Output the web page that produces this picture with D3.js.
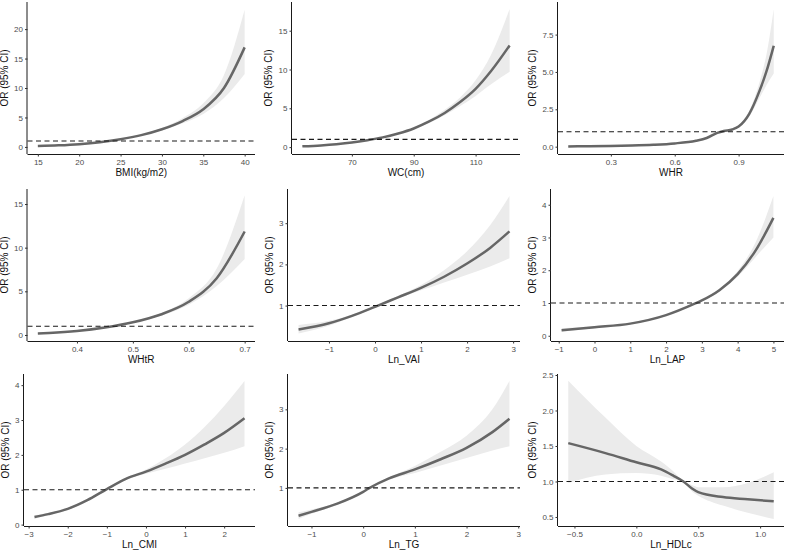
<!DOCTYPE html>
<html>
<head>
<meta charset="utf-8">
<script src="https://cdn.jsdelivr.net/npm/d3@7/dist/d3.min.js"></script>
<style>
  body { margin: 0; background: #fff; }
  text { font-family: "Liberation Sans", Arial, sans-serif; }
</style>
</head>
<body>
<svg id="chart" width="787" height="553"></svg>
<script>
// ---- data (OR with 95% CI) ----
var bmiX  = [15, 17.5, 20, 22.5, 25, 27.5, 30, 32.5, 35, 37.5, 40];
var bmiOR = [0.15, 0.27, 0.47, 0.8, 1.3, 2.0, 3.0, 4.4, 6.4, 10.0, 16.9];
var bmiLo = [0.1, 0.21, 0.4, 0.78, 1.25, 1.9, 2.8, 4.0, 5.6, 8.3, 12.4];
var bmiHi = [0.22, 0.34, 0.55, 0.83, 1.38, 2.1, 3.2, 4.9, 7.4, 12.2, 23.3];

var wcX  = [54, 60, 65, 70, 75, 80, 85, 90, 95, 100, 105, 110, 115, 121];
var wcOR = [0.1, 0.22, 0.37, 0.58, 0.88, 1.25, 1.75, 2.4, 3.3, 4.4, 5.8, 7.5, 9.8, 13.1];
var wcLo = [0.06, 0.17, 0.32, 0.55, 0.86, 1.22, 1.7, 2.3, 3.1, 4.1, 5.3, 6.6, 8.1, 9.7];
var wcHi = [0.16, 0.28, 0.43, 0.62, 0.9, 1.28, 1.8, 2.5, 3.5, 4.8, 6.4, 8.6, 11.9, 17.8];

var whrX  = [0.1, 0.2, 0.3, 0.4, 0.5, 0.6, 0.7, 0.75, 0.8, 0.83, 0.87, 0.9, 0.95, 1.0, 1.03, 1.065];
var whrOR = [0.02, 0.03, 0.05, 0.08, 0.13, 0.22, 0.4, 0.58, 0.92, 1.05, 1.15, 1.35, 2.2, 3.8, 5.0, 6.75];
var whrLo = [0.0, 0.01, 0.02, 0.05, 0.09, 0.17, 0.35, 0.54, 0.88, 1.02, 1.1, 1.28, 2.0, 3.3, 4.1, 4.9];
var whrHi = [0.12, 0.12, 0.13, 0.15, 0.19, 0.28, 0.46, 0.63, 0.96, 1.08, 1.2, 1.42, 2.4, 4.4, 6.1, 9.2];

var whtrX  = [0.33, 0.35, 0.4, 0.45, 0.5, 0.55, 0.6, 0.65, 0.7];
var whtrOR = [0.16, 0.22, 0.45, 0.85, 1.45, 2.35, 3.8, 6.5, 11.85];
var whtrLo = [0.1, 0.16, 0.39, 0.82, 1.4, 2.2, 3.45, 5.6, 8.7];
var whtrHi = [0.24, 0.3, 0.52, 0.88, 1.5, 2.5, 4.2, 7.6, 16.0];

var vaiX  = [-1.66, -1, -0.5, 0, 0.5, 1, 1.5, 2, 2.5, 2.92];
var vaiOR = [0.42, 0.57, 0.75, 0.97, 1.2, 1.43, 1.7, 2.02, 2.4, 2.8];
var vaiLo = [0.32, 0.51, 0.72, 0.95, 1.17, 1.37, 1.56, 1.75, 1.95, 2.15];
var vaiHi = [0.53, 0.63, 0.78, 0.99, 1.23, 1.5, 1.86, 2.32, 2.95, 3.66];

var lapX  = [-0.92, 0, 1, 2, 2.8, 3, 3.5, 4, 4.5, 5];
var lapOR = [0.17, 0.26, 0.37, 0.63, 0.98, 1.08, 1.4, 1.88, 2.6, 3.6];
var lapLo = [0.12, 0.23, 0.35, 0.62, 0.97, 1.06, 1.36, 1.8, 2.4, 3.0];
var lapHi = [0.23, 0.29, 0.4, 0.65, 1.0, 1.1, 1.45, 1.98, 2.85, 4.27];

var cmiX  = [-2.85, -2.5, -2, -1.5, -1, -0.5, 0, 0.5, 1, 1.5, 2, 2.52];
var cmiOR = [0.22, 0.3, 0.45, 0.7, 1.02, 1.32, 1.52, 1.75, 2.0, 2.3, 2.63, 3.05];
var cmiLo = [0.17, 0.27, 0.42, 0.67, 0.99, 1.29, 1.46, 1.6, 1.75, 1.9, 2.06, 2.25];
var cmiHi = [0.27, 0.33, 0.48, 0.73, 1.05, 1.35, 1.58, 1.9, 2.3, 2.8, 3.4, 4.12];

var tgX  = [-1.25, -1, -0.5, 0, 0.1, 0.5, 1, 1.5, 2, 2.5, 2.83];
var tgOR = [0.29, 0.39, 0.6, 0.9, 0.98, 1.24, 1.47, 1.73, 2.02, 2.42, 2.76];
var tgLo = [0.21, 0.34, 0.57, 0.88, 0.97, 1.21, 1.38, 1.57, 1.76, 1.95, 2.06];
var tgHi = [0.38, 0.45, 0.63, 0.92, 1.0, 1.27, 1.56, 1.92, 2.33, 3.0, 3.72];

var hdlX  = [-0.55, -0.25, 0, 0.2, 0.3, 0.38, 0.45, 0.5, 0.7, 0.9, 1.11];
var hdlOR = [1.54, 1.4, 1.27, 1.17, 1.08, 1.0, 0.9, 0.85, 0.78, 0.75, 0.72];
var hdlLo = [0.98, 1.1, 1.12, 1.08, 1.03, 1.0, 0.86, 0.8, 0.66, 0.56, 0.47];
var hdlHi = [2.42, 1.9, 1.5, 1.28, 1.14, 1.0, 0.95, 0.92, 0.92, 0.98, 1.13];

// axis titles and tick values
var xTitles = ["BMI(kg/m2)", "WC(cm)", "WHR", "WHtR", "Ln_VAI", "Ln_LAP", "Ln_CMI", "Ln_TG", "Ln_HDLc"];
var xTickVals = [[15, 20, 25, 30, 35, 40], [70, 90, 110], [0.3, 0.6, 0.9], [0.4, 0.5, 0.6, 0.7],
  [-1, 0, 1, 2, 3], [-1, 0, 1, 2, 3, 4, 5], [-3, -2, -1, 0, 1, 2], [-1, 0, 1, 2, 3], [-0.5, 0, 0.5, 1]];
var yTickVals = [[0, 5, 10, 15, 20], [0, 5, 10, 15], [0, 2.5, 5, 7.5], [0, 5, 10, 15],
  [1, 2, 3], [0, 1, 2, 3, 4], [0, 1, 2, 3, 4], [1, 2, 3], [0.5, 1, 1.5, 2, 2.5]];
var yLimits = [[-1.2, 24.6], [-0.89, 18.7], [-0.49, 9.68], [-0.69, 16.72],
  [0.14, 3.83], [-0.16, 4.48], [-0.04, 4.32], [0.03, 3.9], [0.373, 2.514]];
var yTickFmt = [d3.format("d"), d3.format("d"), d3.format(".1f"), d3.format("d"),
  d3.format("d"), d3.format("d"), d3.format("d"), d3.format("d"), d3.format(".1f")];
var xTickFmt = [d3.format("d"), d3.format("d"), d3.format(".1f"), d3.format(".1f"),
  d3.format("d"), d3.format("d"), d3.format("d"), d3.format("d"), d3.format(".1f")];

var series = [
  [bmiX, bmiOR, bmiLo, bmiHi], [wcX, wcOR, wcLo, wcHi], [whrX, whrOR, whrLo, whrHi],
  [whtrX, whtrOR, whtrLo, whtrHi], [vaiX, vaiOR, vaiLo, vaiHi], [lapX, lapOR, lapLo, lapHi],
  [cmiX, cmiOR, cmiLo, cmiHi], [tgX, tgOR, tgLo, tgHi], [hdlX, hdlOR, hdlLo, hdlHi]
];

// ---- layout (ggplot-like grid of 3 x 3) ----
var svg = d3.select("#chart");
var rowTop = [2, 189, 374], panelH = 152;
var colRight = [255, 520, 784];
var panelLeft = [27.5, 292, 558, 27.5, 288, 551, 24, 288, 558];

var minus = function (s) { return String(s).replace("-", "\u2212"); };

series.forEach(function (s, i) {
  var row = Math.floor(i / 3), col = i % 3;
  var left = panelLeft[i], right = colRight[col];
  var top = rowTop[row], bottom = top + panelH;

  var xs = s[0];
  var pad = (xs[xs.length - 1] - xs[0]) * 0.05;
  var x = d3.scaleLinear().domain([xs[0] - pad, xs[xs.length - 1] + pad]).range([left, right]);
  var y = d3.scaleLinear().domain(yLimits[i]).range([bottom, top]);

  var pts = xs.map(function (v, k) { return {x: v, or: s[1][k], lo: s[2][k], hi: s[3][k]}; });

  var g = svg.append("g").attr("class", "panel");

  var ribbon = d3.area().curve(d3.curveMonotoneX)
      .x(function (d) { return x(d.x); })
      .y0(function (d) { return y(d.lo); })
      .y1(function (d) { return y(d.hi); });
  g.append("path").datum(pts).attr("d", ribbon).attr("fill", "#ebebeb");

  var line = d3.line().curve(d3.curveMonotoneX)
      .x(function (d) { return x(d.x); })
      .y(function (d) { return y(d.or); });
  g.append("path").datum(pts).attr("d", line)
      .attr("fill", "none").attr("stroke", "#666").attr("stroke-width", 2.5);

  g.append("line")
      .attr("x1", left).attr("x2", right)
      .attr("y1", y(1)).attr("y2", y(1))
      .attr("stroke", "#1a1a1a").attr("stroke-width", 1.1)
      .attr("stroke-dasharray", "5,3.5");

  var xAxis = d3.axisBottom(x).tickValues(xTickVals[i]).tickSize(2.5).tickPadding(2.5)
      .tickFormat(function (d) { return minus(xTickFmt[i](d)); });
  var gx = g.append("g").attr("transform", "translate(0," + bottom + ")").call(xAxis);
  gx.select(".domain").attr("d", "M" + left + ",0.5H" + right).attr("stroke", "#1a1a1a");

  var yAxis = d3.axisLeft(y).tickValues(yTickVals[i]).tickSize(2.5).tickPadding(2)
      .tickFormat(function (d) { return minus(yTickFmt[i](d)); });
  var gy = g.append("g").attr("transform", "translate(" + left + ",0)").call(yAxis);
  gy.select(".domain").attr("d", "M-0.5," + top + "V" + bottom).attr("stroke", "#1a1a1a");

  [gx, gy].forEach(function (ax) {
    ax.selectAll(".tick line").attr("stroke", "#333");
    ax.selectAll(".tick text").attr("fill", "#4d4d4d").style("font-size", "8px")
        .style("font-family", "'Liberation Sans', Arial, sans-serif");
  });

  var labelW = 0;
  gy.selectAll(".tick text").each(function () { labelW = Math.max(labelW, this.getBBox().width); });

  g.append("text")
      .attr("x", (left + right) / 2).attr("y", bottom + 22)
      .attr("text-anchor", "middle").style("font-size", "10px").attr("fill", "#111")
      .text(xTitles[i]);

  g.append("text")
      .attr("transform", "translate(" + (left - labelW - 10.5) + "," + (top + bottom) / 2 + ") rotate(-90)")
      .attr("text-anchor", "middle").style("font-size", "10px").attr("fill", "#111")
      .text("OR (95% CI)");
});
</script>
</body>
</html>
